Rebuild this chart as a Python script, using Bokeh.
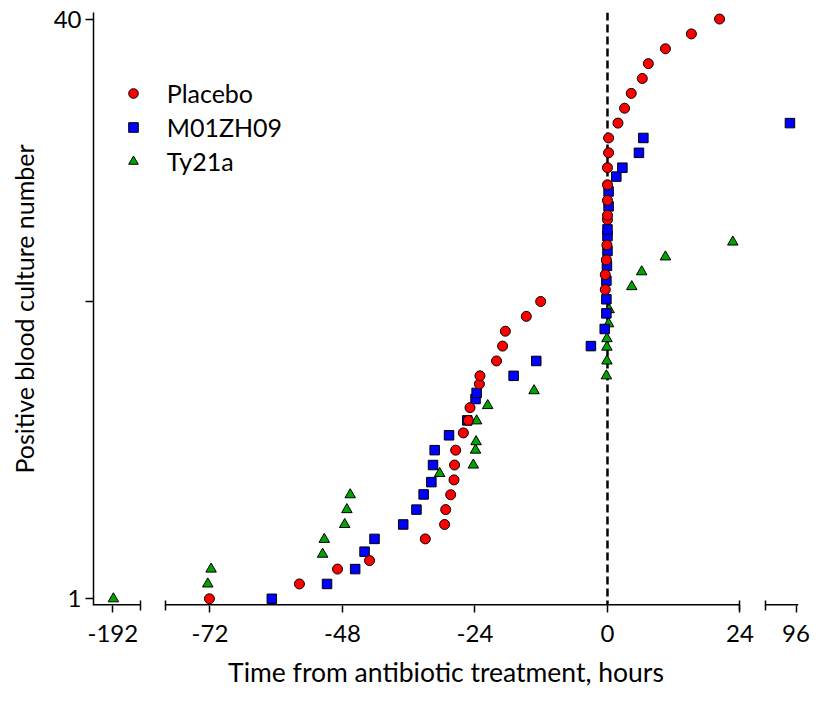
from bokeh.plotting import figure
from bokeh.models import Range1d, FixedTicker, Span, Legend, LegendItem
from bokeh.embed import file_html
from bokeh.resources import INLINE

# ---------------- data (hours from antibiotic treatment, culture number) ----------------
placebo_hours = [-72.1, -55.8, -48.9, -43.1, -33.0, -29.5, -29.3, -28.4, -27.8, -27.7,
                 -27.5, -26.1, -25.2, -24.9, -23.2, -23.1, -20.1, -19.0, -18.5, -14.7,
                 -12.1, -0.4, -0.4, -0.2, -0.1, 0.0, 0.0, 0.0, 0.0, 0.0,
                 0.2, 0.2, 1.9, 3.1, 4.3, 6.3, 7.4, 10.5, 15.2, 20.3]
placebo_num = [1, 2, 3, 3.57, 5.03, 6, 7, 8, 9, 10,
               11, 12.16, 13, 13.86, 15.45, 16, 17, 18, 19, 20,
               21, 21.8, 22.8, 23.8, 24.8, 26.5, 26.8, 27.8, 28.85, 30,
               31, 32, 33, 34, 35, 36, 37, 38, 39, 40]

m01_hours = [-60.8, -50.8, -45.7, -44.0, -42.2, -37.0, -34.6, -33.3, -31.9, -31.6,
             -31.3, -28.7, -25.4, -23.9, -23.7, -17.0, -12.9, -3.0, -0.5, -0.2,
             -0.2, -0.2, -0.1, 0.0, 0.0, 0.0, 0.2, 0.2, 1.6, 2.7,
             5.7, 6.5, 94.9]
m01_num = [1, 2, 3, 4.17, 5.03, 6, 7, 8.02, 8.85, 10,
           11, 12, 13, 14.44, 14.85, 16, 17, 18, 19.15, 20.2,
           21.15, 22.4, 23.4, 24.4, 25.4, 25.85, 27.4, 28.4, 29.4, 30,
           31, 32, 33]

ty21_hours = [-191.9, -72.4, -71.8, -51.6, -51.3, -47.6, -47.2, -46.6, -30.4, -24.3,
              -23.9, -23.8, -23.7, -21.7, -13.3, -0.2, -0.1, -0.1, -0.1, 0.2,
              0.3, 4.4, 6.2, 10.5, 22.7]
ty21_num = [1, 2, 3, 4, 5, 6, 7, 8, 9.43, 10,
            11, 11.57, 12.97, 14, 15, 16, 17, 17.93, 18.5, 19.5,
            20.45, 22, 23, 24, 25]

series_names = ["Placebo", "M01ZH09", "Ty21a"]
x_ticks = [-192, -72, -48, -24, 0, 24, 96]
y_ticks = [1, 21, 40]
y_tick_labels = {1: "1", 21: "", 40: "40"}

# broken x axis: visible hour intervals and the gap between them (in hours of the main scale)
segments = [(-195.5, -187.0), (-80.0, 24.0), (90.45, 96.45)]
GAP = 4.6

offsets = [
    (segments[1][0] - GAP) - segments[0][1],
    0.0,
    (segments[1][1] + GAP) - segments[2][0],
]


def to_disp(h):
    for (lo, hi), off in zip(segments, offsets):
        if lo <= h <= hi:
            return h + off
    raise ValueError(h)


Y_START, Y_END = 0.55, 40.44

p = figure(width=810, height=690,
           x_range=Range1d(to_disp(segments[0][0]), to_disp(segments[2][1])),
           y_range=Range1d(Y_START, Y_END),
           output_backend="svg", toolbar_location=None,
           min_border_left=93, min_border_right=12, min_border_top=12, min_border_bottom=84)
p.outline_line_color = None
p.grid.visible = False
p.background_fill_color = "white"

# dashed line at treatment start
p.add_layout(Span(location=to_disp(0), dimension="height", line_color="black",
                  line_width=2.5, line_dash="8 4", level="underlay"))

# broken axis line pieces (drawn on the frame bottom edge)
p.segment(x0=[to_disp(lo) for lo, hi in segments], y0=[Y_START] * 3,
          x1=[to_disp(hi) for lo, hi in segments], y1=[Y_START] * 3,
          line_color="black", line_width=3)

common = dict(line_color="black", line_width=1)
r_ty = p.scatter(x=[to_disp(h) for h in ty21_hours], y=ty21_num, marker="triangle",
                 size=10.5, fill_color="#00a400", **common)
r_m01 = p.scatter(x=[to_disp(h) for h in m01_hours], y=m01_num, marker="square",
                  size=9.5, fill_color="#0000ff", **common)
r_pl = p.scatter(x=[to_disp(h) for h in placebo_hours], y=placebo_num, marker="circle",
                 size=10, fill_color="#ff0000", **common)

legend = Legend(items=[LegendItem(label=series_names[0], renderers=[r_pl]),
                       LegendItem(label=series_names[1], renderers=[r_m01]),
                       LegendItem(label=series_names[2], renderers=[r_ty])],
                location=(27.7, 428.6), glyph_width=24, glyph_height=30, label_height=30,
                label_standoff=22, spacing=4, padding=0, margin=0,
                border_line_color=None, background_fill_alpha=0,
                label_text_font="Lato", label_text_font_size="25px", label_text_color="black")
p.add_layout(legend)

# x axis
xa = p.xaxis[0]
xa.ticker = FixedTicker(ticks=[to_disp(t) for t in x_ticks],
                        minor_ticks=[to_disp(segments[0][1]), to_disp(segments[1][0]),
                                     to_disp(segments[1][1]), to_disp(segments[2][0])])
xa.major_label_overrides = {to_disp(t): str(t) for t in x_ticks}
xa.axis_line_color = None
xa.major_tick_in = 0
xa.major_tick_out = 7
xa.minor_tick_in = 5
xa.minor_tick_out = 5
xa.major_tick_line_width = 1.5
xa.minor_tick_line_width = 1.5
xa.major_tick_line_color = "black"
xa.minor_tick_line_color = "black"
xa.major_label_standoff = 12
xa.major_label_text_font = "Lato"
xa.major_label_text_font_size = "24px"
xa.major_label_text_color = "black"
xa.axis_label = "Time from antibiotic treatment, hours"
xa.axis_label_text_font = "Lato"
xa.axis_label_text_font_size = "26.5px"
xa.axis_label_text_font_style = "normal"
xa.axis_label_text_color = "black"
xa.axis_label_standoff = 11

# y axis
ya = p.yaxis[0]
ya.ticker = FixedTicker(ticks=y_ticks)
ya.major_label_overrides = y_tick_labels
ya.axis_line_color = "black"
ya.axis_line_width = 1.5
ya.major_tick_in = 0
ya.major_tick_out = 8
ya.minor_tick_out = 0
ya.minor_tick_in = 0
ya.major_tick_line_width = 1.5
ya.major_tick_line_color = "black"
ya.major_label_standoff = 4
ya.major_label_text_font = "Lato"
ya.major_label_text_font_size = "24px"
ya.major_label_text_color = "black"
ya.axis_label = "Positive blood culture number"
ya.axis_label_text_font = "Lato"
ya.axis_label_text_font_size = "25px"
ya.axis_label_text_font_style = "normal"
ya.axis_label_text_color = "black"
ya.axis_label_standoff = 12

open("out.html", "w").write(file_html(p, INLINE))
